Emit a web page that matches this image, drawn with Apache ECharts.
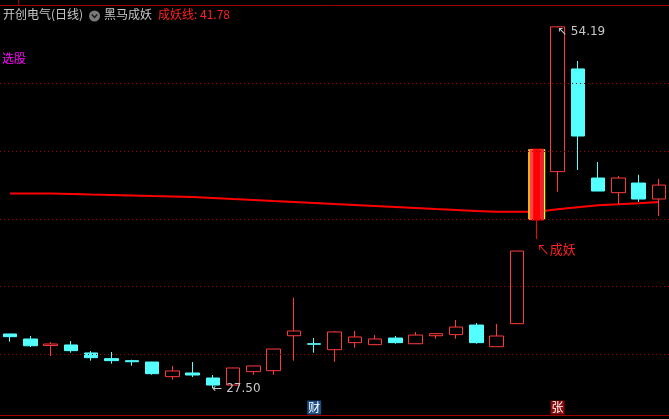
<!DOCTYPE html>
<html><head><meta charset="utf-8">
<script src="https://cdn.jsdelivr.net/npm/echarts@6/dist/echarts.min.js"></script>
<style>html,body{margin:0;padding:0;background:#000;}#c{width:669px;height:419px;}</style>
</head><body><div id="c"></div>
<script>
const categories = ['1','2','3','4','5','6','7','8','9','10','11','12','13','14','15','16','17','18','19','20','21','22','23','24','25','26','27','28','29','30','31','32','33'];
// [open, close, low, high]
const opens  = [31.50,31.13,30.65,30.69,30.10,29.68,29.53,29.43,28.35,28.62,28.25,27.73,28.72,28.79,31.37,30.78,30.34,30.86,30.71,31.20,30.78,31.37,31.45,32.16,30.56,32.26,39.91,43.48,51.06,43.01,41.93,42.64,41.46];
const closes = [31.30,30.63,30.76,30.27,29.75,29.53,29.45,28.57,28.77,28.47,27.73,28.99,29.14,30.39,31.72,30.74,31.65,31.28,31.13,30.86,31.42,31.52,32.01,30.86,31.35,37.62,45.14,54.17,46.11,42.05,43.01,41.46,42.49];
const lows   = [30.93,30.54,29.87,30.12,29.53,29.31,29.16,28.49,28.13,28.32,27.50,27.72,28.49,28.49,29.53,30.12,29.45,30.49,30.70,30.78,30.77,31.15,31.15,30.78,30.55,32.25,38.51,42.00,43.60,42.04,41.09,41.24,40.21];
const highs  = [31.52,31.35,30.91,30.98,30.24,30.17,29.60,29.44,29.14,29.43,28.47,29.00,29.15,30.40,34.18,31.20,31.72,31.72,31.42,31.35,31.65,31.57,32.53,32.31,32.24,37.63,45.14,54.19,51.65,44.19,43.16,43.25,42.94];
const yaoLine = [41.87,41.87,41.87,41.83,41.79,41.76,41.72,41.68,41.65,41.61,41.54,41.46,41.39,41.31,41.24,41.17,41.09,41.02,40.94,40.87,40.80,40.72,40.65,40.58,40.52,40.52,40.52,40.71,40.86,41.00,41.07,41.15,41.24];
const gridValues = [30,35,40,45,50];
const yaoIndex = 26;           // 成妖 bar
const highIndex = 27, highValue = 54.19;
const lowIndex = 10, lowValue = 27.50;
const badgeIndex = [15, 27];
const badgeText = ['财', '张'];
const headerName = '开创电气(日线)';
const headerInd = '黑马成妖';
const headerVal = '成妖线: 41.78';

const UP = '#ff3a3a', DOWN = '#54ffff';
const Y_MIN = 25.52, Y_MAX = 55.78, BADGE_Y = 26.07;

const kData = categories.map((c, i) => {
  const item = { value: [opens[i], closes[i], lows[i], highs[i]] };
  if (i === yaoIndex) item.itemStyle = { color: '#ff0000', borderColor: '#ff0000' };
  return item;
});

const chart = echarts.init(document.getElementById('c'), null, { renderer: 'canvas' });
chart.setOption({
  backgroundColor: '#000',
  animation: false,
  grid: { left: -1.7, right: -2.7, top: 5, bottom: 4 },
  xAxis: { type: 'category', data: categories, show: false, boundaryGap: true },
  yAxis: { type: 'value', min: Y_MIN, max: Y_MAX, show: false, splitLine: { show: false } },
  series: [
    {
      type: 'line', data: yaoLine, symbol: 'none', z: 2,
      lineStyle: { color: '#ff0000', width: 2 },
      markLine: {
        silent: true, symbol: 'none', label: { show: false },
        lineStyle: { color: '#a00000', type: [1, 3], width: 1 },
        data: gridValues.map(v => ({ yAxis: v }))
      }
    },
    {
      type: 'candlestick', data: kData, barWidth: 14, z: 3,
      itemStyle: { color: '#000', color0: DOWN, borderColor: UP, borderColor0: DOWN, borderWidth: 1 },
      markPoint: {
        silent: true, animation: false,
        data: [
          { coord: [highIndex, highValue], symbol: 'circle', symbolSize: 1, itemStyle: { color: 'rgba(0,0,0,0)' },
            label: { show: true, position: 'right', distance: 0, offset: [-1, 5], formatter: '↖ ' + highValue.toFixed(2),
              color: '#c8c8c8', fontSize: 12, fontFamily: 'DejaVu Sans' } },
          { coord: [lowIndex, lowValue], symbol: 'circle', symbolSize: 1, itemStyle: { color: 'rgba(0,0,0,0)' },
            label: { show: true, position: 'right', distance: 0, offset: [-1, 1], formatter: '← ' + lowValue.toFixed(2),
              color: '#c8c8c8', fontSize: 12, fontFamily: 'DejaVu Sans' } },
          { coord: [yaoIndex, lows[yaoIndex]], symbol: 'circle', symbolSize: 1, itemStyle: { color: 'rgba(0,0,0,0)' },
            label: { show: true, position: 'right', distance: 0, offset: [-1, 10], formatter: '↖成妖',
              color: '#ff2020', fontSize: 13, fontFamily: 'Noto Sans CJK SC' } },
          ...badgeIndex.map((bi, k) => ({
            coord: [bi, BADGE_Y], symbol: 'rect', symbolSize: [14, 14],
            itemStyle: { color: k === 0 ? '#1d4f84' : '#8a0a0a' },
            label: { show: true, position: 'inside', formatter: badgeText[k], color: '#ffffff', fontSize: 12,
              fontFamily: 'Noto Sans CJK SC' }
          }))
        ]
      }
    },
    {
      type: 'custom', z: 4, silent: true,
      data: [[yaoIndex, opens[yaoIndex], closes[yaoIndex]]],
      renderItem: function (params, api) {
        const pBot = api.coord([api.value(0), api.value(1)]);
        const pTop = api.coord([api.value(0), api.value(2)]);
        const cx = pBot[0], y0 = pTop[1], h = pBot[1] - pTop[1];
        return { type: 'group', children: [
          { type: 'rect', shape: { x: cx - 9, y: y0, width: 17, height: h }, style: { fill: '#ffff00' } },
          { type: 'rect', shape: { x: cx - 7.7, y: y0, width: 14.4, height: h }, style: { fill: '#ff4050' } },
          { type: 'rect', shape: { x: cx - 4, y: y0, width: 7, height: h }, style: { fill: '#ff0000' } },
          { type: 'rect', shape: { x: cx + 3, y: y0, width: 3.7, height: h }, style: { fill: '#e8242c' } }
        ] };
      }
    }
  ],
  graphic: [
    { type: 'line', shape: { x1: 0, y1: 5.5, x2: 669, y2: 5.5 }, style: { stroke: '#a00000', lineWidth: 1 } },
    { type: 'line', shape: { x1: 18.5, y1: 0, x2: 18.5, y2: 5 }, style: { stroke: '#a00000', lineWidth: 1 } },
    { type: 'line', shape: { x1: 0, y1: 415.5, x2: 669, y2: 415.5 }, style: { stroke: '#a00000', lineWidth: 1 } },
    { type: 'text', left: 3, top: 8, style: { text: headerName, fill: '#c8c8c8', font: '12px "Noto Sans CJK SC"' } },
    { type: 'circle', shape: { cx: 94.5, cy: 16, r: 5.5 }, style: { fill: '#7a7a7a' } },
    { type: 'polyline', shape: { points: [[91.8, 14.5], [94.5, 17.5], [97.2, 14.5]] }, style: { stroke: '#1a1a1a', lineWidth: 1.5, fill: null } },
    { type: 'text', left: 104, top: 8, style: { text: headerInd, fill: '#c8c8c8', font: '12px "Noto Sans CJK SC"' } },
    { type: 'text', left: 158, top: 8, style: { text: headerVal, fill: '#ff2020', font: '12px "Noto Sans CJK SC"' } },
    { type: 'text', left: 2, top: 52, style: { text: '选股', fill: '#ff00ff', font: '12px "Noto Sans CJK SC"' } }
  ]
});
</script>
</body></html>
